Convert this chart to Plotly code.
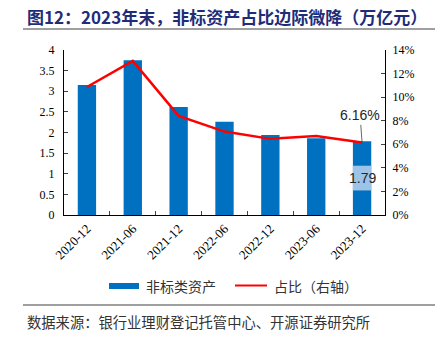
import plotly.graph_objects as go

categories = ["2020-12", "2021-06", "2021-12", "2022-06", "2022-12", "2023-06", "2023-12"]
nonstd_assets = [3.15, 3.75, 2.62, 2.26, 1.94, 1.86, 1.79]
share_pct = [10.86, 13.07, 8.41, 7.08, 6.46, 6.71, 6.16]

title_text = "图12：2023年末，非标资产占比边际微降（万亿元）"
source_text = "数据来源：银行业理财登记托管中心、开源证券研究所"
legend_bar = "非标类资产"
legend_line = "占比（右轴）"

W, H = 441, 341
L, R, T, B = 64, 56, 50, 126
PW, PH = W - L - R, H - T - B

def px(x):
    return (x - L) / PW

def py(y):
    return (H - B - y) / PH

CJK = "Noto Sans CJK SC"
SERIF = "Liberation Serif"

fig = go.Figure()
fig.add_trace(go.Bar(x=categories, y=nonstd_assets, marker=dict(color="#0070C0", line=dict(width=0)),
                     name=legend_bar, showlegend=False))
fig.add_trace(go.Scatter(x=categories, y=share_pct, mode="lines", yaxis="y2",
                         line=dict(color="#FF0000", width=2.5), name=legend_line, showlegend=False))

shapes = []
annotations = []

# label box for the last bar
last_i = len(categories) - 1
mid = nonstd_assets[-1] / 2
shapes.append(dict(type="rect", xref="x", yref="y", x0=last_i - 0.2, x1=last_i + 0.2,
                   y0=mid - 0.3, y1=mid + 0.3, fillcolor="#9DC3E6", line=dict(width=0), layer="above"))
annotations.append(dict(x=categories[-1], y=mid, xref="x", yref="y", text=f"{nonstd_assets[-1]:.2f}",
                        showarrow=False, font=dict(family="Liberation Sans", size=14, color="#262626")))
annotations.append(dict(x=categories[-1], y=share_pct[-1], xref="x", yref="y2", text=f"{share_pct[-1]:.2f}%",
                        showarrow=True, arrowhead=0, arrowwidth=0.8, arrowcolor="#404040",
                        ax=-2, ay=-27, font=dict(family="Liberation Sans", size=14, color="#262626")))

# title
annotations.append(dict(x=px(25), y=py(16), xref="paper", yref="paper", xanchor="left", yanchor="middle",
                        text=f"<b>{title_text}</b>", showarrow=False,
                        font=dict(family=CJK, size=17, color="#1F2D79")))
shapes.append(dict(type="line", xref="paper", yref="paper", x0=px(23), x1=px(435), y0=py(29), y1=py(29),
                   line=dict(color="#7F7F7F", width=1.5)))

# legend
shapes.append(dict(type="rect", xref="paper", yref="paper", x0=px(109), x1=px(139), y0=py(289), y1=py(283),
                   fillcolor="#0070C0", line=dict(width=0)))
annotations.append(dict(x=px(144), y=py(285.5), xref="paper", yref="paper", xanchor="left", yanchor="middle",
                        text=legend_bar, showarrow=False, font=dict(family=CJK, size=14, color="#333333")))
shapes.append(dict(type="line", xref="paper", yref="paper", x0=px(235), x1=px(267), y0=py(285.5), y1=py(285.5),
                   line=dict(color="#FF0000", width=2)))
annotations.append(dict(x=px(272), y=py(285.5), xref="paper", yref="paper", xanchor="left", yanchor="middle",
                        text=legend_line, showarrow=False, font=dict(family=CJK, size=14, color="#333333")))

# source
shapes.append(dict(type="line", xref="paper", yref="paper", x0=px(23), x1=px(435), y0=py(305), y1=py(305),
                   line=dict(color="#7F7F7F", width=1.5)))
annotations.append(dict(x=px(25), y=py(321), xref="paper", yref="paper", xanchor="left", yanchor="middle",
                        text=source_text, showarrow=False, font=dict(family=CJK, size=14.3, color="#333333")))

fig.update_layout(
    width=W, height=H, margin=dict(l=L, r=R, t=T, b=B, pad=0),
    paper_bgcolor="white", plot_bgcolor="white",
    bargap=0.6, showlegend=False,
    shapes=shapes, annotations=annotations,
    xaxis=dict(type="category", tickangle=-45, showline=True, linecolor="black", linewidth=1,
               ticks="inside", ticklen=4, tickcolor="#404040", tickson="boundaries",
               tickfont=dict(family=SERIF, size=13, color="black"), showgrid=False, zeroline=False),
    yaxis=dict(range=[0, 4], dtick=0.5, showline=True, linecolor="black", linewidth=1,
               ticks="inside", ticklen=4, tickcolor="#404040", showgrid=False, zeroline=False,
               tickfont=dict(family=SERIF, size=12, color="black"), ticklabelstandoff=6),
    yaxis2=dict(range=[0, 14], dtick=2, ticksuffix="%", overlaying="y", side="right",
                showline=True, linecolor="black", linewidth=1,
                ticks="inside", ticklen=4, tickcolor="#404040", showgrid=False, zeroline=False,
                tickfont=dict(family=SERIF, size=12, color="black"), ticklabelstandoff=4),
)

fig.write_html("out.html")
